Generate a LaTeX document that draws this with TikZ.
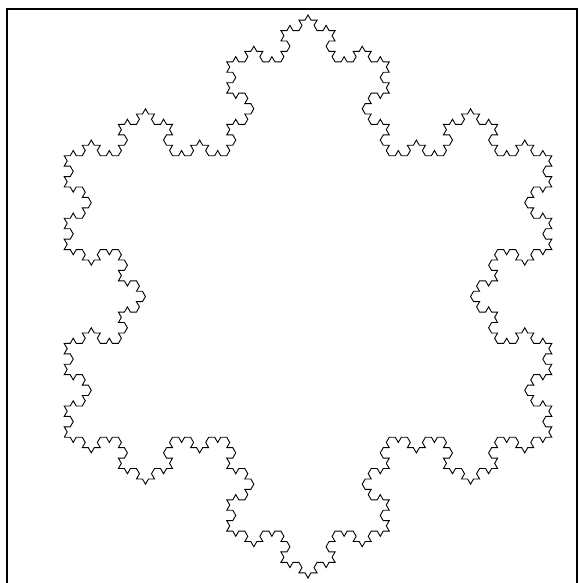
\documentclass[tikz,border=0pt]{standalone}
\usepackage{tikz}
\usetikzlibrary{lindenmayersystems}

\pgfdeclarelindenmayersystem{Koch flake}{
  \rule{F -> F-F++F-F}
}

\begin{document}
\begin{tikzpicture}[x=1pt, y=1pt,
  frameline/.style={draw=black, line width=2pt},
  flakeline/.style={draw=black, line width=0.9pt, line join=miter}
]

% ─── page size (reference proportions) ───
\useasboundingbox (0,0) rectangle (578,583);

% ─── frame: open at the bottom ───
\draw[frameline] (7,0) -- (7,573.5) -- (577,573.5) -- (577,0);

% ─── Koch snowflake, order 4, starting at the lower-left vertex ───
\coordinate (flakestart) at (64.2,145.75);
\draw[flakeline, shift={(flakestart)},
      lindenmayer system={Koch flake, axiom=F++F++F, order=4,
                          step=6.02pt, angle=60}]
     lindenmayer system;

\end{tikzpicture}
\end{document}
